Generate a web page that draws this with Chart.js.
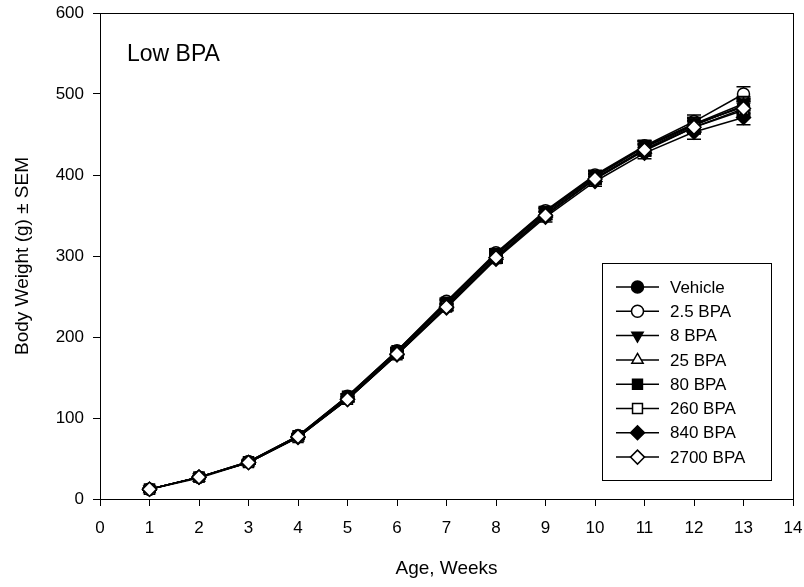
<!DOCTYPE html>
<html>
<head>
<meta charset="utf-8">
<script src="https://cdn.jsdelivr.net/npm/chart.js@4/dist/chart.umd.min.js"></script>
<style>
  html, body { margin: 0; padding: 0; background: #fff; }
  #wrap { width: 804px; height: 587px; }
</style>
</head>
<body>
<div id="wrap"><canvas id="chart" width="804" height="587"></canvas></div>
<script>
// Body weight by week, one array per dose group
const weeks = [1, 2, 3, 4, 5, 6, 7, 8, 9, 10, 11, 12, 13];
const groupNames = ['Vehicle', '2.5 BPA', '8 BPA', '25 BPA', '80 BPA', '260 BPA', '840 BPA', '2700 BPA'];

const vehicle  = [12, 27, 46, 78, 126, 182, 242, 302, 354, 398, 434, 462, 485];
const bpa2_5   = [12, 27, 46, 78, 127, 183, 244, 304, 356, 400, 436, 466, 500];
const bpa8     = [12, 27, 45, 77, 125, 181, 241, 301, 354, 398, 435, 463, 488];
const bpa25    = [12, 26, 45, 76, 124, 179, 239, 299, 352, 396, 432, 461, 486];
const bpa80    = [12, 27, 46, 78, 127, 183, 243, 303, 355, 399, 435, 463, 484];
const bpa260   = [12, 27, 45, 76, 123, 178, 237, 297, 350, 395, 430, 459, 480];
const bpa840   = [12, 27, 45, 76, 123, 178, 236, 296, 348, 392, 427, 453, 471];
const bpa2700  = [12, 27, 45, 77, 123, 179, 237, 298, 350, 395, 431, 459, 482];

// standard error of the mean for each group
const semVehicle = [1, 1, 2, 2, 3, 4, 4, 5, 5, 6, 7, 8, 9];
const sem2_5     = [1, 1, 2, 2, 3, 4, 4, 5, 5, 6, 7, 8, 9];
const sem8       = [1, 1, 2, 2, 3, 4, 4, 5, 5, 6, 7, 8, 9];
const sem25      = [1, 1, 2, 2, 3, 4, 4, 5, 5, 6, 7, 8, 9];
const sem80      = [1, 1, 2, 2, 3, 4, 4, 5, 5, 6, 7, 8, 9];
const sem260     = [1, 1, 2, 2, 3, 4, 4, 5, 5, 6, 7, 8, 9];
const sem840     = [1, 1, 2, 2, 3, 4, 4, 5, 6, 6, 7, 9, 9];
const sem2700    = [1, 1, 2, 2, 3, 4, 4, 5, 5, 6, 7, 8, 9];

const xTicks = [0, 14, 1];
const yTicks = [0, 600, 100];

const groupValues = [vehicle, bpa2_5, bpa8, bpa25, bpa80, bpa260, bpa840, bpa2700];
const groupSems = [semVehicle, sem2_5, sem8, sem25, sem80, sem260, sem840, sem2700];

// marker look per group (SigmaPlot style)
const markers = [
  { style: 'circle', fill: '#000', radius: 6, rotation: 0 },
  { style: 'circle', fill: '#fff', radius: 6, rotation: 0 },
  { style: 'triangle', fill: '#000', radius: 6.5, rotation: 180 },
  { style: 'triangle', fill: '#fff', radius: 6.5, rotation: 0 },
  { style: 'rect', fill: '#000', radius: 7, rotation: 0 },
  { style: 'rect', fill: '#fff', radius: 7, rotation: 0 },
  { style: 'rectRot', fill: '#000', radius: 7, rotation: 0 },
  { style: 'rectRot', fill: '#fff', radius: 7, rotation: 0 }
];

const FONT = 'Arial, "Liberation Sans", Helvetica, sans-serif';

const datasets = groupNames.map(function (name, i) {
  return {
    label: name,
    data: weeks.map(function (w, j) { return { x: w, y: groupValues[i][j] }; }),
    sems: groupSems[i],
    borderColor: '#000',
    borderWidth: 1.5,
    backgroundColor: markers[i].fill,
    pointStyle: markers[i].style,
    pointRadius: markers[i].radius,
    pointRotation: markers[i].rotation,
    pointBackgroundColor: markers[i].fill,
    pointBorderColor: '#000',
    pointBorderWidth: 1.5,
    tension: 0,
    order: groupNames.length - i
  };
});

// error bars, drawn just before each series
const errorBars = {
  id: 'errorBars',
  beforeDatasetDraw: function (chart, args) {
    const ds = chart.data.datasets[args.index];
    const xs = chart.scales.x, ys = chart.scales.y;
    const ctx = chart.ctx;
    ctx.save();
    ctx.strokeStyle = '#000';
    ctx.lineWidth = 1.5;
    ds.data.forEach(function (p, j) {
      const px = xs.getPixelForValue(p.x);
      const top = ys.getPixelForValue(p.y + ds.sems[j]);
      const bot = ys.getPixelForValue(p.y - ds.sems[j]);
      ctx.beginPath();
      ctx.moveTo(px, top); ctx.lineTo(px, bot);
      ctx.moveTo(px - 7, top); ctx.lineTo(px + 7, top);
      ctx.moveTo(px - 7, bot); ctx.lineTo(px + 7, bot);
      ctx.stroke();
    });
    ctx.restore();
  }
};

function drawMarker(ctx, m, x, y) {
  ctx.fillStyle = m.fill;
  ctx.strokeStyle = '#000';
  ctx.lineWidth = 1.5;
  Chart.helpers.drawPoint(ctx, {
    pointStyle: m.style, radius: m.radius, rotation: m.rotation, borderWidth: 1.5
  }, x, y);
}

// frame, panel label and boxed legend
const decorations = {
  id: 'decorations',
  afterDraw: function (chart) {
    const ctx = chart.ctx;
    const a = chart.chartArea;
    ctx.save();
    ctx.strokeStyle = '#000';
    ctx.lineWidth = 1;
    ctx.strokeRect(a.left + 0.5, a.top + 0.5, a.right - a.left, a.bottom - a.top);

    ctx.fillStyle = '#000';
    ctx.font = '23px ' + FONT;
    ctx.textBaseline = 'alphabetic';
    ctx.fillText('Low BPA', 127, 61);

    // legend
    ctx.fillStyle = '#fff';
    ctx.fillRect(602, 263, 169, 217);
    ctx.strokeRect(602.5, 263.5, 169, 217);
    ctx.font = '17px ' + FONT;
    ctx.textBaseline = 'middle';
    groupNames.forEach(function (name, i) {
      const y = 287 + i * 24.3;
      ctx.strokeStyle = '#000';
      ctx.lineWidth = 1.5;
      ctx.beginPath();
      ctx.moveTo(616, y); ctx.lineTo(659, y);
      ctx.stroke();
      drawMarker(ctx, markers[i], 637.5, y);
      ctx.fillStyle = '#000';
      ctx.fillText(name, 670, y + 1);
    });
    ctx.restore();
  }
};

new Chart(document.getElementById('chart'), {
  type: 'line',
  data: { datasets: datasets },
  plugins: [errorBars, decorations],
  options: {
    responsive: false,
    animation: false,
    layout: { padding: { top: 13, right: 11, left: 0, bottom: 0 } },
    plugins: {
      legend: { display: false },
      tooltip: { enabled: false }
    },
    scales: {
      x: {
        type: 'linear',
        min: xTicks[0],
        max: xTicks[1],
        ticks: { stepSize: xTicks[2], color: '#000', font: { family: FONT, size: 17 }, padding: 12, maxRotation: 0 },
        grid: { drawOnChartArea: false, drawTicks: true, tickLength: 7, color: '#000', tickColor: '#000' },
        border: { display: true, color: '#000', width: 1 },
        title: { display: true, text: 'Age, Weeks', color: '#000', font: { family: FONT, size: 19 }, padding: { top: 0, bottom: 7 } },
        afterFit: function (s) { s.height = 88; s.paddingLeft = 0; s.paddingRight = 0; }
      },
      y: {
        min: yTicks[0],
        max: yTicks[1],
        ticks: { stepSize: yTicks[2], color: '#000', font: { family: FONT, size: 17 }, padding: 9 },
        grid: { drawOnChartArea: false, drawTicks: true, tickLength: 7, color: '#000', tickColor: '#000' },
        border: { display: true, color: '#000', width: 1 },
        title: { display: true, text: 'Body Weight (g) \u00b1 SEM', color: '#000', font: { family: FONT, size: 19 }, padding: { top: 11, bottom: 0 } },
        afterFit: function (s) { s.width = 100; s.paddingTop = 0; s.paddingBottom = 0; }
      }
    }
  }
});
</script>
</body>
</html>
